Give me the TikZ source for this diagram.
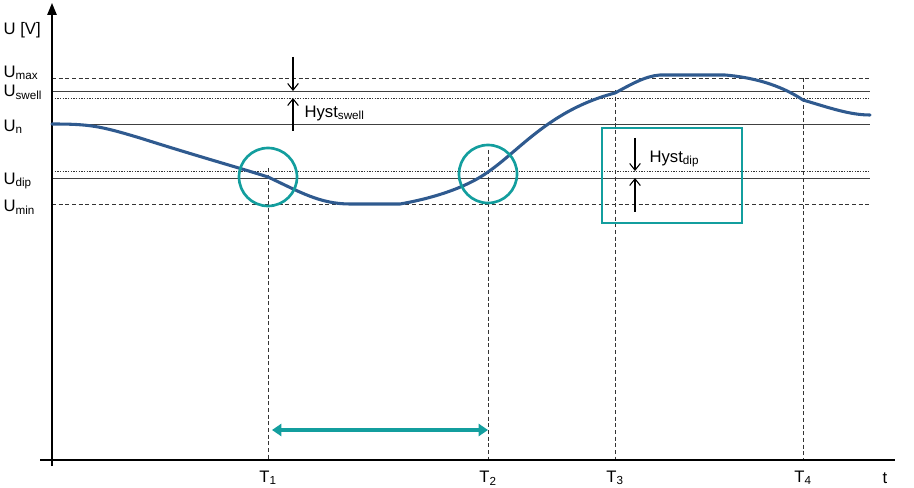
\documentclass[tikz,border=0pt]{standalone}
\usepackage{fontspec}
\setmainfont{Liberation Sans}
\usetikzlibrary{arrows.meta}
\definecolor{curve}{HTML}{2F5A8F}
\definecolor{tealc}{HTML}{139E9E}
\begin{document}
\begin{tikzpicture}[x=0.75pt,y=-0.75pt,
  lab/.style={font=\fontsize{12.5}{14}\selectfont, inner sep=1pt},
  dsh/.style={dash pattern=on 3pt off 2pt, line width=0.5pt, black!80},
  dtt/.style={dash pattern=on 1pt off 1pt, line width=0.5pt, black!80},
  sol/.style={line width=0.6pt, black!75},
  hy/.style={-{Straight Barb[length=5pt,width=8pt]}, line width=0.8pt},
  tmark/.style={tealc, line width=2pt}]
\useasboundingbox (0,0) rectangle (914,488);
% horizontal levels
\draw[dsh] (52,78) -- (870,78);
\draw[sol] (52,91) -- (870,91);
\draw[dtt] (52,98) -- (870,98);
\draw[sol] (52,124) -- (870,124);
\draw[dtt] (52,171) -- (870,171);
\draw[sol] (52,178) -- (870,178);
\draw[dsh] (52,204) -- (870,204);
% verticals
\draw[dsh] (268,168) -- (268,460);
\draw[dsh] (488,150) -- (488,460);
\draw[dsh] (615,90) -- (615,460);
\draw[dsh] (803,78) -- (803,460);
% axes
\draw[-{Triangle[length=9pt,width=7pt]}, line width=1.3pt] (52,466) -- (52,3);
\draw[line width=1.3pt] (40,460) -- (895,460);
\node[lab, anchor=west] (uv) at (2,30) {U [V]};
\node[lab, anchor=west] (umax) at (2,73) {U\textsubscript{max}};
\node[lab, anchor=west] (usw) at (2,92) {U\textsubscript{swell}};
\node[lab, anchor=west] (un) at (2,127) {U\textsubscript{n}};
\node[lab, anchor=west] (udip) at (2,181) {U\textsubscript{dip}};
\node[lab, anchor=west] (umin) at (2,207) {U\textsubscript{min}};
\node[lab] (t1) at (268,478) {T\textsubscript{1}};
\node[lab] (t2) at (488,478) {T\textsubscript{2}};
\node[lab] (t3) at (615,478) {T\textsubscript{3}};
\node[lab] (t4) at (803,478) {T\textsubscript{4}};
\node[lab] (t) at (885,478) {t};
% curve
\draw[curve, line width=2.3pt, line cap=round]
  (52,124) .. controls (90,124) and (100,126) .. (140,138)
  .. controls (200,157) and (240,168) .. (268,177)
  .. controls (300,192) and (320,204) .. (350,204)
  -- (400,204)
  .. controls (440,197) and (470,185) .. (488,172)
  .. controls (520,150) and (550,110) .. (615,93)
  .. controls (630,85) and (645,76) .. (660,75)
  -- (725,75)
  .. controls (760,78) and (785,88) .. (803,100)
  .. controls (830,108) and (850,115) .. (870,115);
% teal marks
\node[tmark, draw, circle, minimum size=43.5pt, inner sep=0] (c1) at (268,177) {};
\node[tmark, draw, circle, minimum size=43.5pt, inner sep=0] (c2) at (488,174) {};
\draw[tmark] (602,128) rectangle (742,223);
\coordinate (a1) at (272,430);
\coordinate (a2) at (488,430);
\draw[tmark, line width=2.5pt, {Triangle[length=7pt,width=9pt]}-{Triangle[length=7pt,width=9pt]}] (a1) -- (a2);
% hysteresis arrows
\draw[hy] (293,57) -- (293,91);
\draw[hy] (293,131) -- (293,98);
\node[lab, anchor=west] (hs) at (303,113) {Hyst\textsubscript{swell}};
\draw[hy] (635,138) -- (635,171);
\draw[hy] (635,212) -- (635,178);
\node[lab, anchor=west] (hd) at (648,159) {Hyst\textsubscript{dip}};
\end{tikzpicture}
\end{document}
